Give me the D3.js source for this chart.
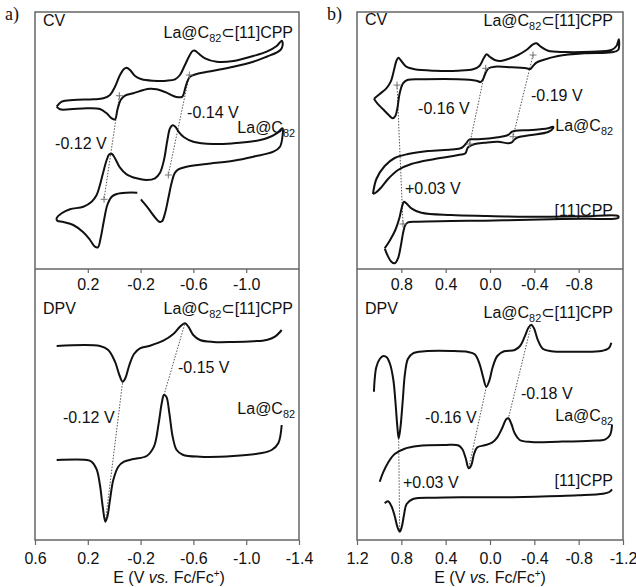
<!DOCTYPE html>
<html><head><meta charset="utf-8">
<script src="https://cdn.jsdelivr.net/npm/d3@7"></script>
<style>
body{margin:0;background:#fff;}
svg text{font-family:"Liberation Sans",Arial,"DejaVu Sans",sans-serif;fill:#111;}
</style></head><body>
<svg id="chart" width="636" height="587"></svg>
<script>
// ---------- DATA (E in V vs Fc/Fc+, I in arbitrary current units) ----------
const ticksA_cv = [0.2, -0.2, -0.6, -1.0];
const ticksA_bottom = [0.6, 0.2, -0.2, -0.6, -1.0, -1.4];
const ticksB_cv = [0.8, 0.4, 0.0, -0.4, -0.8];
const ticksB_bottom = [1.2, 0.8, 0.4, 0.0, -0.4, -0.8, -1.2];
const domainA = [0.6, -1.4];
const domainB = [1.2, -1.2];
const cvMax = 25.7, dpvMax = 27.1;

// Panel a, CV
const cvA_complex = [[0.436,16.23],[0.398,16.73],[0.310,16.9],[0.158,16.97],[0.082,17.07],[0.032,17.4],[-0.006,18.23],[-0.044,19.4],[-0.074,20.0],[-0.094,20.13],[-0.120,19.9],[-0.158,19.3],[-0.208,18.97],[-0.296,18.83],[-0.397,18.83],[-0.461,18.97],[-0.498,19.4],[-0.536,20.4],[-0.569,21.3],[-0.594,21.8],[-0.612,21.83],[-0.637,21.57],[-0.688,21.07],[-0.776,20.73],[-0.903,20.8],[-1.054,21.3],[-1.155,21.73],[-1.231,22.3],[-1.269,22.83],
[-1.276,22.63],[-1.269,22.07],[-1.243,21.73],[-1.155,21.23],[-1.054,20.73],[-0.903,20.23],[-0.751,19.83],[-0.625,19.5],[-0.574,19.23],[-0.549,18.57],[-0.531,17.73],[-0.516,17.23],[-0.486,17.17],[-0.448,17.3],[-0.397,17.63],[-0.322,17.97],[-0.271,18.03],[-0.221,17.9],[-0.145,17.57],[-0.082,17.33],[-0.049,16.9],[-0.024,15.9],[-0.006,14.97],[0.019,15.07],[0.057,15.57],[0.108,16.0],[0.209,16.07],[0.335,15.97],[0.411,15.97],[0.436,16.23]];
const cvA_la = [[-0.175,7.63],[-0.094,7.63],[-0.019,7.5],[0.019,7.23],[0.052,6.4],[0.077,4.9],[0.103,3.07],[0.123,2.17],[0.146,2.23],[0.183,2.9],[0.234,3.67],[0.310,4.4],[0.385,4.7],[0.431,4.83],
[0.436,5.07],[0.398,5.57],[0.335,5.97],[0.234,6.23],[0.171,6.73],[0.133,7.4],[0.108,8.4],[0.082,9.73],[0.057,10.9],[0.037,11.47],[0.017,11.5],[-0.006,11.07],[-0.044,10.13],[-0.094,9.47],[-0.170,9.07],[-0.246,8.9],[-0.309,9.07],[-0.347,9.63],[-0.377,10.9],[-0.403,12.9],[-0.423,14.07],[-0.443,14.37],[-0.463,14.23],[-0.488,13.73],[-0.529,13.17],[-0.599,12.73],[-0.751,12.5],[-0.903,12.57],[-1.054,12.77],[-1.155,13.07],[-1.231,13.57],[-1.276,14.07],
[-1.276,13.4],[-1.256,12.23],[-1.206,11.73],[-1.054,11.23],[-0.903,10.83],[-0.700,10.5],[-0.549,10.23],[-0.486,9.97],[-0.458,9.57],[-0.435,8.63],[-0.410,7.07],[-0.385,5.57],[-0.362,4.77],[-0.342,4.73],[-0.301,5.3],[-0.258,6.07],[-0.221,6.67],[-0.203,6.97]];
const cvA_half = [[-0.039,17.33],[-0.569,19.4],[0.077,6.97],[-0.410,9.4]];
const cvA_guides = [[[-0.039,17.33],[0.077,6.97]],[[-0.569,19.4],[-0.410,9.4]]];

// Panel a, DPV
const dpvA_complex = [[0.436,19.4],[0.108,19.4],[0.045,19.0],[-0.006,17.83],[-0.039,16.5],[-0.064,15.83],[-0.084,16.17],[-0.115,17.5],[-0.150,18.6],[-0.195,19.17],[-0.271,19.43],[-0.372,19.93],[-0.448,20.6],[-0.498,21.33],[-0.536,21.67],[-0.562,21.33],[-0.599,20.5],[-0.650,20.0],[-0.751,19.8],[-0.903,19.8],[-1.054,19.87],[-1.155,20.0],[-1.218,20.33],[-1.269,21.0]];
const dpvA_la = [[0.436,8.0],[0.209,8.0],[0.171,7.83],[0.133,7.07],[0.108,5.5],[0.087,3.33],[0.067,1.83],[0.052,2.33],[0.032,4.0],[0.007,6.0],[-0.031,7.33],[-0.074,7.83],[-0.145,8.1],[-0.246,8.4],[-0.301,9.33],[-0.337,11.67],[-0.360,13.67],[-0.377,14.5],[-0.395,14.33],[-0.418,12.67],[-0.443,10.33],[-0.473,9.0],[-0.519,8.53],[-0.650,8.33],[-0.903,8.4],[-1.104,8.67],[-1.193,9.0],[-1.243,9.67],[-1.269,11.5]];
const dpvA_guides = [[[0.067,1.83],[-0.064,15.83]],[[-0.377,14.5],[-0.536,21.67]]];

// Panel b, CV
const cvB_complex = [[1.047,17.03],[0.995,17.5],[0.935,18.07],[0.896,18.73],[0.866,19.9],[0.845,20.8],[0.827,21.13],[0.800,20.8],[0.755,20.23],[0.680,19.97],[0.499,19.83],[0.289,19.83],[0.153,19.97],[0.093,20.33],[0.057,21.07],[0.030,21.47],[0.003,21.23],[-0.043,20.9],[-0.097,20.8],[-0.163,21.0],[-0.253,21.4],[-0.328,21.9],[-0.388,22.47],[-0.419,22.57],[-0.458,22.23],[-0.524,21.83],[-0.674,21.7],[-0.915,21.73],[-1.095,21.9],[-1.141,22.3],[-1.162,22.97],
[-1.156,21.9],[-1.095,21.67],[-0.855,21.57],[-0.614,21.3],[-0.479,20.9],[-0.419,20.63],[-0.388,20.3],[-0.364,20.0],[-0.328,20.07],[-0.193,20.17],[-0.043,20.23],[0.012,20.07],[0.039,19.63],[0.063,18.97],[0.084,18.7],[0.123,18.83],[0.289,18.97],[0.589,18.97],[0.746,18.9],[0.785,18.57],[0.815,17.57],[0.836,16.07],[0.854,15.3],[0.878,15.07],[0.914,15.4],[0.965,15.97],[1.017,16.57],[1.047,17.03]];
const cvB_la = [[1.056,7.5],[1.025,9.0],[0.950,10.3],[0.860,11.1],[0.740,11.5],[0.559,11.8],[0.349,11.95],[0.258,12.1],[0.219,12.5],[0.192,12.9],[0.162,12.97],[0.108,12.97],[-0.073,13.17],[-0.163,13.4],[-0.199,13.73],[-0.229,13.83],[-0.373,13.9],[-0.524,14.07],[-0.569,14.23],
[-0.569,14.07],[-0.524,13.7],[-0.373,13.4],[-0.253,13.17],[-0.223,12.97],[-0.193,12.63],[-0.163,12.57],[-0.073,12.73],[0.048,12.63],[0.138,12.5],[0.198,12.17],[0.222,11.57],[0.258,11.45],[0.499,11.0],[0.710,10.5],[0.830,9.9],[0.920,9.0],[0.986,8.1],[1.035,7.6],[1.056,7.5]];
const cvB_cpp = [[0.950,2.07],[0.905,2.83],[0.854,3.9],[0.818,5.07],[0.794,6.23],[0.776,6.73],[0.755,6.57],[0.710,6.07],[0.619,5.63],[0.349,5.4],[0.048,5.3],[-0.253,5.23],[-0.554,5.23],[-0.855,5.27],[-1.156,5.3],
[-1.156,5.1],[-0.855,5.03],[-0.554,4.97],[-0.253,4.9],[0.048,4.83],[0.349,4.8],[0.650,4.73],[0.740,4.67],[0.764,4.4],[0.782,3.73],[0.806,2.23],[0.830,1.07],[0.860,0.57],[0.890,0.73],[0.926,1.4],[0.950,2.07]];
const cvB_half = [[0.839,18.4],[0.039,20.07],[-0.388,21.4],[0.183,12.5],[-0.208,13.23],[0.785,4.5]];
const cvB_guides = [[[0.839,18.4],[0.785,4.5]],[[0.039,20.07],[0.183,12.5]],[[-0.388,21.4],[-0.208,13.23]]];

// Panel b, DPV
const dpvB_complex = [[1.047,14.83],[1.041,16.0],[1.026,17.27],[0.995,18.1],[0.962,18.4],[0.932,18.27],[0.902,17.6],[0.872,16.0],[0.851,13.5],[0.836,11.33],[0.824,10.17],[0.809,11.17],[0.788,13.83],[0.767,16.67],[0.740,18.13],[0.695,18.67],[0.589,18.87],[0.349,18.9],[0.198,18.8],[0.138,18.57],[0.096,17.67],[0.063,16.33],[0.033,15.33],[0.006,15.93],[-0.024,17.27],[-0.066,18.4],[-0.127,18.87],[-0.223,19.0],[-0.271,19.4],[-0.313,20.33],[-0.349,21.27],[-0.373,21.53],[-0.397,21.17],[-0.434,19.93],[-0.479,19.1],[-0.554,18.87],[-0.795,18.83],[-1.005,18.9],[-1.071,19.17],[-1.095,19.73]];
const dpvB_la = [[0.995,5.83],[0.965,6.73],[0.920,7.73],[0.860,8.6],[0.770,9.13],[0.650,9.4],[0.409,9.5],[0.289,9.47],[0.249,9.07],[0.219,8.17],[0.192,7.17],[0.168,7.5],[0.144,8.6],[0.114,9.27],[0.048,9.47],[-0.018,9.73],[-0.066,10.27],[-0.109,11.17],[-0.148,12.1],[-0.166,12.17],[-0.193,11.6],[-0.223,10.67],[-0.268,10.0],[-0.373,9.8],[-0.614,9.83],[-0.915,9.93],[-1.041,10.07],[-1.083,10.5],[-1.101,11.5]];
const dpvB_cpp = [[0.950,3.67],[0.920,3.87],[0.890,3.4],[0.860,2.4],[0.836,1.33],[0.815,0.83],[0.797,1.27],[0.776,2.5],[0.752,3.6],[0.695,4.1],[0.499,4.23],[0.198,4.27],[-0.103,4.27],[-0.404,4.33],[-0.795,4.47],[-1.020,4.63],[-1.077,4.8],[-1.101,5.07]];
const dpvB_guides = [[[0.824,10.17],[0.815,0.83]],[[0.033,15.33],[0.192,7.17]],[[-0.373,21.53],[-0.166,12.17]]];

// Text labels: [E, I, anchor, parts]
const labelsA_cv = [
  [0.539,24.9,"start",[["CV"]]],
  [-1.355,23.7,"end",[["La@C"],["82","sub"],["⊂[11]CPP"]]],
  [-0.552,15.7,"start",[["-0.14 V"]]],
  [-1.37,14.2,"end",[["La@C"],["82","sub"]]],
  [0.448,12.6,"start",[["-0.12 V"]]]
];
const labelsA_dpv = [
  [0.539,23.2,"start",[["DPV"]]],
  [-1.355,23.2,"end",[["La@C"],["82","sub"],["⊂[11]CPP"]]],
  [-0.483,17.3,"start",[["-0.15 V"]]],
  [0.388,12.3,"start",[["-0.12 V"]]],
  [-1.37,13.2,"end",[["La@C"],["82","sub"]]]
];
const labelsB_cv = [
  [1.128,25.0,"start",[["CV"]]],
  [-1.110,24.9,"end",[["La@C"],["82","sub"],["⊂[11]CPP"]]],
  [-0.370,17.4,"start",[["-0.19 V"]]],
  [0.649,16.1,"start",[["-0.16 V"]]],
  [-1.110,14.4,"end",[["La@C"],["82","sub"]]],
  [0.767,8.1,"start",[["+0.03 V"]]],
  [-1.110,5.9,"end",[["[11]CPP"]]]
];
const labelsB_dpv = [
  [1.128,23.2,"start",[["DPV"]]],
  [-1.110,22.8,"end",[["La@C"],["82","sub"],["⊂[11]CPP"]]],
  [-0.280,14.7,"start",[["-0.18 V"]]],
  [-1.110,12.5,"end",[["La@C"],["82","sub"]]],
  [0.586,12.3,"start",[["-0.16 V"]]],
  [0.785,5.8,"start",[["+0.03 V"]]],
  [-1.110,6.0,"end",[["[11]CPP"]]]
];

// ---------- DRAWING ----------
const svg = d3.select("#chart");
const TOP = 12, MID = 269, BOT = 540;
const fmt = d => d.toFixed(1);

const panels = [
  {tag:"a)", x0:35, x1:299, dom:domainA, cvTicks:ticksA_cv, botTicks:ticksA_bottom,
   cv:[cvA_complex, cvA_la], dpv:[dpvA_complex, dpvA_la], cvHalf:cvA_half,
   cvGuides:cvA_guides, dpvGuides:dpvA_guides, cvLabels:labelsA_cv, dpvLabels:labelsA_dpv},
  {tag:"b)", x0:357, x1:623, dom:domainB, cvTicks:ticksB_cv, botTicks:ticksB_bottom,
   cv:[cvB_complex, cvB_la, cvB_cpp], dpv:[dpvB_complex, dpvB_la, dpvB_cpp], cvHalf:cvB_half,
   cvGuides:cvB_guides, dpvGuides:dpvB_guides, cvLabels:labelsB_cv, dpvLabels:labelsB_dpv}
];

function addText(g, x, y, anchor, parts, size) {
  const t = g.append("text").attr("x", x).attr("y", y).attr("dy","0.35em")
    .attr("text-anchor", anchor).style("font-size", size + "px");
  let shift = 0;
  parts.forEach(p => {
    const ts = t.append("tspan").text(p[0]);
    if (p[1] === "sub") { ts.style("font-size", (size*0.68)+"px").attr("dy", 4); shift = 4; }
    else if (shift) { ts.attr("dy", -shift); shift = 0; }
  });
  return t;
}

panels.forEach(P => {
  const g = svg.append("g");
  const x = d3.scaleLinear().domain(P.dom).range([P.x0, P.x1]);
  const yCV = d3.scaleLinear().domain([0, cvMax]).range([MID, TOP]);
  const yDPV = d3.scaleLinear().domain([0, dpvMax]).range([BOT, MID]);

  // frame
  g.append("rect").attr("x", P.x0).attr("y", TOP).attr("width", P.x1 - P.x0).attr("height", BOT - TOP)
    .attr("fill","none").attr("stroke","#666").attr("stroke-width",1.5);
  g.append("line").attr("x1",P.x0).attr("x2",P.x1).attr("y1",MID).attr("y2",MID)
    .attr("stroke","#666").attr("stroke-width",1.5);

  // axes
  const axMid = g.append("g").attr("transform",`translate(0,${MID})`)
    .call(d3.axisBottom(x).tickValues(P.cvTicks).tickSize(4).tickPadding(6).tickFormat(fmt));
  const axBot = g.append("g").attr("transform",`translate(0,${BOT})`)
    .call(d3.axisBottom(x).tickValues(P.botTicks).tickSize(5).tickPadding(8).tickFormat(fmt));
  [axMid, axBot].forEach(a => {
    a.select(".domain").remove();
    a.selectAll(".tick line").attr("stroke","#666").attr("stroke-width",1.2);
    a.selectAll(".tick text").attr("font-family",null).style("font-size","16px").attr("fill","#111");
  });

  // axis title
  const cx = P.tag === "a)" ? 169 : 490;
  const title = g.append("text").attr("x", cx).attr("y", 583).attr("text-anchor","middle").style("font-size","16px");
  title.append("tspan").text("E (V ");
  title.append("tspan").text("vs.").style("font-style","italic");
  title.append("tspan").text(" Fc/Fc");
  title.append("tspan").text("+").style("font-size","10px").attr("dy",-6);
  title.append("tspan").text(")").attr("dy",6);

  // panel tag
  g.append("text").attr("x", P.x0 - 30).attr("y", 14).attr("dy","0.35em")
    .style("font-family","'Liberation Serif','Times New Roman',serif").style("font-size","18px").text(P.tag);

  // guides (dotted)
  const drawGuides = (arr, y) => arr.forEach(seg => {
    g.append("line").attr("x1", x(seg[0][0])).attr("y1", y(seg[0][1]))
      .attr("x2", x(seg[1][0])).attr("y2", y(seg[1][1]))
      .attr("stroke","#555").attr("stroke-width",1).attr("stroke-dasharray","1.5,1.5");
  });
  drawGuides(P.cvGuides, yCV);
  drawGuides(P.dpvGuides, yDPV);

  // curves
  const lineCV = d3.line().x(d => x(d[0])).y(d => yCV(d[1])).curve(d3.curveCatmullRom.alpha(0.5));
  const lineDPV = d3.line().x(d => x(d[0])).y(d => yDPV(d[1])).curve(d3.curveCatmullRom.alpha(0.5));
  P.cv.forEach(c => g.append("path").attr("d", lineCV(c)).attr("fill","none")
    .attr("stroke","#111").attr("stroke-width",2).attr("stroke-linejoin","round"));
  P.dpv.forEach(c => g.append("path").attr("d", lineDPV(c)).attr("fill","none")
    .attr("stroke","#111").attr("stroke-width",2).attr("stroke-linejoin","round"));

  // half-wave "+" markers
  P.cvHalf.forEach(d => {
    const px = x(d[0]), py = yCV(d[1]);
    g.append("path").attr("d", `M${px-3.5},${py}H${px+3.5}M${px},${py-3.5}V${py+3.5}`)
      .attr("stroke","#777").attr("stroke-width",1);
  });

  // labels
  P.cvLabels.forEach(l => addText(g, x(l[0]), yCV(l[1]), l[2], l[3], 16));
  P.dpvLabels.forEach(l => addText(g, x(l[0]), yDPV(l[1]), l[2], l[3], 16));
});
</script>
</body></html>
